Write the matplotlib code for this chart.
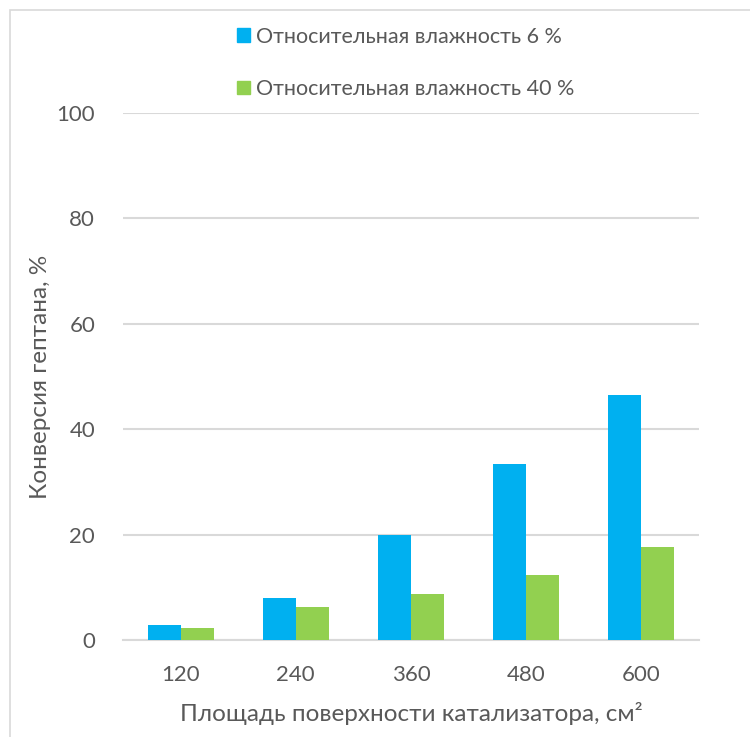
import numpy as np
import matplotlib.pyplot as plt
from matplotlib.patches import Rectangle, Patch

plt.rcParams['font.family'] = ['Lato', 'DejaVu Sans']

areas = ["120", "240", "360", "480", "600"]
rh6 = [2.8, 8.0, 20.0, 33.4, 46.4]
rh40 = [2.3, 6.2, 8.8, 12.4, 17.6]

blue = "#00B0F0"
green = "#92D050"
text_col = "#595959"
grid_col = "#D9D9D9"

fig = plt.figure(figsize=(7.5, 7.37), dpi=100)
ax = fig.add_axes([0.164, 0.1316, 0.768, 0.7151])

x = np.arange(len(areas))
w = 0.287
ax.bar(x - w / 2, rh6, w, color=blue, zorder=3)
ax.bar(x + w / 2, rh40, w, color=green, zorder=3)

ax.set_xlim(-0.5, len(areas) - 0.5)
ax.set_ylim(0, 100)
ax.set_yticks(np.arange(0, 101, 20))
ax.set_xticks(x)
ax.set_xticklabels(areas)

ax.yaxis.grid(True, color=grid_col, linewidth=1.5, zorder=0)
for s in ["top", "right", "left"]:
    ax.spines[s].set_visible(False)
ax.spines["bottom"].set_color(grid_col)
ax.spines["bottom"].set_linewidth(1.5)
ax.tick_params(axis="both", length=0, labelsize=16, colors=text_col)
ax.tick_params(axis="y", pad=20)
ax.tick_params(axis="x", pad=18)

ax.set_ylabel("Конверсия гептана, %", fontsize=17.5, color=text_col, labelpad=4)
ax.set_xlabel("Площадь поверхности катализатора, см²", fontsize=17.5,
              color=text_col, labelpad=12)

handles = [Patch(color=blue), Patch(color=green)]
labels = ["Относительная влажность 6 %", "Относительная влажность 40 %"]
fig.legend(handles, labels, loc="upper left", bbox_to_anchor=(0.29, 0.99),
           frameon=False, fontsize=15.5, labelcolor=text_col,
           handlelength=0.6, handleheight=0.6, handletextpad=0.3,
           labelspacing=1.5)

# outer chart border
fig.patches.append(Rectangle((10 / 750, -0.1), 1.2, 1 - 10 / 737 + 0.1,
                             transform=fig.transFigure, fill=False,
                             edgecolor=grid_col, linewidth=1.2))

fig.savefig("out.png", dpi=100)
